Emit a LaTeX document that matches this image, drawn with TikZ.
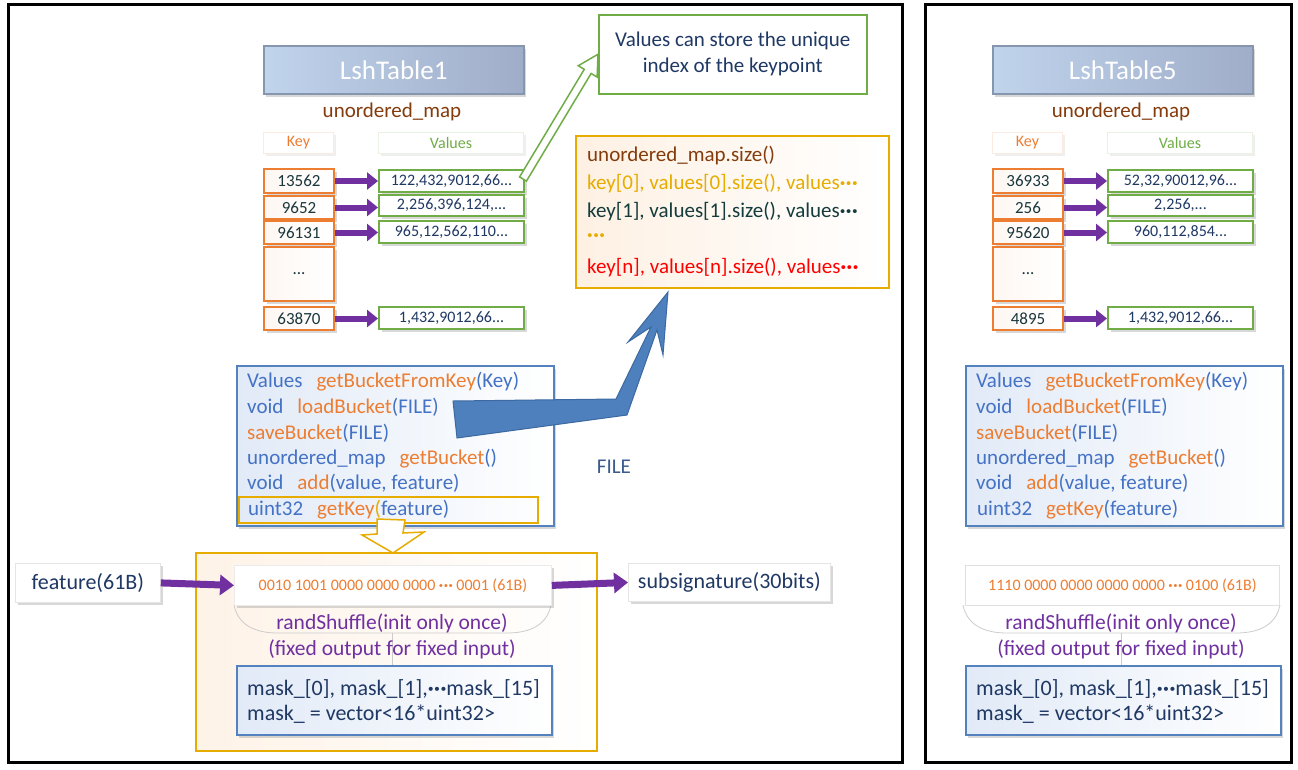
\documentclass[tikz,border=0pt]{standalone}
\usepackage{fontspec}
\setmainfont{Carlito}
\usetikzlibrary{arrows.meta,calc,shadows}

\definecolor{keyor}{RGB}{237,125,49}
\definecolor{valgr}{RGB}{112,173,71}
\definecolor{purp}{RGB}{112,48,160}
\definecolor{dblue}{RGB}{31,56,100}
\definecolor{keytxt}{RGB}{25,55,60}
\definecolor{brownc}{RGB}{132,60,12}
\definecolor{goldc}{RGB}{230,172,0}
\definecolor{fnblue}{RGB}{68,114,196}
\definecolor{fnor}{RGB}{237,125,49}
\definecolor{boxblue}{RGB}{84,130,190}
\definecolor{hdrA}{RGB}{192,212,236}
\definecolor{hdrB}{RGB}{160,173,200}
\definecolor{hdrline}{RGB}{135,150,175}
\definecolor{arrblue}{RGB}{77,128,189}
\definecolor{arrline}{RGB}{60,105,160}
\definecolor{tealtxt}{RGB}{20,60,60}
\definecolor{peach}{RGB}{253,234,215}
\definecolor{paleblue}{RGB}{225,234,247}
\definecolor{filetxt}{RGB}{60,90,140}
\definecolor{redc}{RGB}{255,0,0}

\newcommand\cb{\color{fnblue}}
\newcommand\co{\color{fnor}}
\newcommand\gkp{\cb}
\newcommand\dts{\textbf{·\kern0.5pt·\kern0.5pt·}}

\tikzset{
 shad/.style={drop shadow={opacity=0.3,shadow xshift=2.5pt,shadow yshift=-3pt}},
 lshad/.style={drop shadow={opacity=0.12,shadow xshift=2pt,shadow yshift=-2pt}},
 hdr/.style={anchor=north west, minimum width=260pt, minimum height=48pt, inner sep=0pt,
   draw=hdrline, line width=1.5pt, left color=hdrA, right color=hdrB, text=white,
   font=\fontsize{27}{32}\selectfont, shad},
 umap/.style={text=brownc, font=\fontsize{21}{25}\selectfont},
 colhdr/.style={anchor=north west, minimum height=21pt, inner sep=0pt, fill=white,
   line width=1pt, font=\fontsize{16}{19}\selectfont, lshad},
 keyhdr/.style={colhdr, minimum width=70pt, draw=keyor!15, text=keyor},
 valhdr/.style={colhdr, minimum width=145pt, draw=valgr!15, text=valgr},
 keybox/.style={anchor=north west, minimum width=70pt, minimum height=23pt, inner sep=0pt,
   draw=keyor, line width=2pt, left color=keyor!6, right color=white, text=keytxt,
   font=\fontsize{17}{20}\selectfont, shad},
 valbox/.style={anchor=north west, minimum width=145pt, minimum height=22pt, inner sep=0pt,
   draw=valgr, line width=2pt, fill=white, text=dblue, font=\fontsize{16}{19}\selectfont, shad},
 parr/.style={draw=purp, line width=6pt, -{Triangle[length=11pt,width=17pt]}},
 parrb/.style={draw=purp, line width=7pt, -{Triangle[length=14pt,width=20pt]}},
 fnbox/.style={anchor=north west, draw=boxblue, line width=1.5pt, left color=paleblue,
   right color=white, inner sep=0pt, shad},
 fl/.style={anchor=base west, inner sep=0pt, font=\fontsize{21}{25}\selectfont, text=fnblue},
 ml/.style={anchor=base west, inner sep=0pt, font=\fontsize{22}{26}\selectfont, text=dblue},
 ptxt/.style={anchor=base, inner sep=0pt, font=\fontsize{21.5}{25}\selectfont, text=purp},
 bowl/.style={draw=black!20, line width=0.8pt},
 plain/.style={anchor=north west, inner sep=0pt, fill=white, draw=black!10, line width=0.8pt,
   font=\fontsize{22}{26}\selectfont, text=dblue, shad},
 bits/.style={anchor=north west, inner sep=0pt, fill=white, line width=0.8pt,
   font=\fontsize{16}{19}\selectfont, text=fnor},
 frame/.style={draw=black, line width=3pt},
}

\newcommand\lshpanel[9]{%
 \node[hdr] (title) at (263,45) {#1};
 \node[umap] (umap) at (392,112) {unordered\_map};
 \node[keyhdr] (kh) at (263,132) {Key};
 \node[valhdr] (vh) at (378,132) {Values};
 \node[keybox, minimum height=24pt] (k1) at (263,168) {#2};
 \node[keybox] (k2) at (263,195) {#3};
 \node[keybox] (k3) at (263,220) {#4};
 \node[keybox, minimum height=54pt] (k4) at (263,246) {...};
 \node[keybox] (k5) at (263,306) {#5};
 \node[valbox] (v1) at (378,169) {#6};
 \node[valbox, minimum height=21pt] (v2) at (378,194) {#7};
 \node[valbox] (v3) at (378,220) {#8};
 \node[valbox] (v5) at (378,306) {#9};
 \draw[parr] (k1.east) -- (k1.east -| v1.west);
 \draw[parr] (k2.east) -- (k2.east -| v2.west);
 \draw[parr] (k3.east) -- (k3.east -| v3.west);
 \draw[parr] (k5.east) -- (k5.east -| v5.west);
 \node[fnbox, minimum width=317pt, minimum height=160pt] (fb) at (236,365) {};
 \node[fl] (f1) at (247,387) {Values\hspace{14pt}\co getBucketFromKey\cb(Key)};
 \node[fl] (f2) at (247,413) {void\hspace{14pt}\co loadBucket\cb(FILE)};
 \node[fl] (f3) at (247,439) {\co saveBucket\cb(FILE)};
 \node[fl] (f4) at (247,464) {unordered\_map\hspace{14pt}\co getBucket\cb()};
 \node[fl] (f5) at (247,489) {void\hspace{14pt}\co add\cb(value, feature)};
 \node[fl] (f6) at (248,515) {uint32\hspace{14pt}\co getKey\gkp(\cb feature)};
 \draw[bowl] (234,605) .. controls (238,625) and (255,633) .. (278,633) -- (507,633)
   .. controls (530,633) and (547,625) .. (551,605);
 \coordinate (bb) at (392,633);
 \node[fnbox, minimum width=315pt, minimum height=69pt] (mb) at (236,665) {};
 \draw[draw=black!20, line width=0.8pt] (bb) -- (bb |- mb.north);
 \node[ptxt] (rs) at (392,629) {randShuffle(init only once)};
 \node[ptxt] (fo) at (392,655) {(fixed output for fixed input)};
 \node[ml] (m1) at (247,695) {mask\_[0], mask\_[1],\dts mask\_[15]};
 \node[ml] (m2) at (247,720) {mask\_ = vector<16*uint32>};
}

\begin{document}
\begin{tikzpicture}[x=1pt,y=-1pt]
\useasboundingbox (0,0) rectangle (1298,769);
\fill[white] (0,0) rectangle (1298,769);
\draw[frame] (8,4) rectangle (902,762);
\draw[frame] (925,4) rectangle (1291,762);

% ---------- left panel ----------
\node[anchor=north west, minimum width=401pt, minimum height=198pt, inner sep=0pt,
  draw=goldc, line width=1.5pt, left color=peach!60, right color=white] (gb) at (195,552) {};
\renewcommand\gkp{\color{goldc}}
\lshpanel{LshTable1}{13562}{9652}{96131}{63870}{122,432,9012,66...}{2,256,396,124,...}{965,12,562,110...}{1,432,9012,66...}
\node[anchor=north west, minimum width=299pt, minimum height=26pt, inner sep=0pt,
  draw=goldc, line width=1.5pt] (gk) at (238,496) {};

% callout
\node[anchor=north west, minimum width=268pt, minimum height=79pt, inner sep=0pt,
  draw=valgr, line width=1.5pt, fill=white] (cb) at (598,14) {};
\node[align=center, text=dblue, font=\fontsize{21}{26}\selectfont] (cbt) at (cb.center)
  {Values can store the unique\\index of the keypoint};
\coordinate (gA) at ($(v1.east)+(-2,-2)$);
\coordinate (gB) at (cb.west);
\coordinate (gH) at ($(gB)!20pt!(gA)$);
\draw[valgr, line width=1.5pt, fill=white]
  ($(gA)!4pt!90:(gB)$) -- ($(gH)!4pt!90:(gB)$) -- ($(gH)!11pt!90:(gB)$) -- (gB)
  -- ($(gH)!11pt!-90:(gB)$) -- ($(gH)!4pt!-90:(gB)$) -- ($(gA)!4pt!-90:(gB)$) -- cycle;

% orange box
\node[anchor=north west, minimum width=313pt, minimum height=152pt, inner sep=0pt,
  draw=goldc, line width=1.5pt, left color=peach!70, right color=white] (ob) at (575,135) {};
\node[fl, text=brownc] (o1) at (587,161) {unordered\_map.size()};
\node[fl, text=goldc] (o2) at (587,189) {key[0], values[0].size(), values\dts};
\node[fl, text=tealtxt] (o3) at (587,217) {key[1], values[1].size(), values\dts};
\node[fl, text=goldc] (o4) at (587,241) {\dts};
\node[fl, text=redc] (o5) at (587,273) {key[n], values[n].size(), values\dts};

% big blue arrow
\draw[fill=arrblue, draw=arrline, line width=1pt]
  (453,401) -- (616,399) -- (651,327) -- (628,342) -- (668,292) -- (663,355)
  -- (657,330) -- (627,415) -- (457,438) -- cycle;
\node[anchor=base, text=filetxt, font=\fontsize{21}{25}\selectfont] (file) at (614,473) {FILE};

% yellow hollow arrow
\draw[goldc, line width=1.5pt, fill=white]
  (377,519) -- (405,520) -- (403,533) -- (424,532) -- (393,553) -- (362,535) -- (377,534) -- cycle;

% bottom row
\node[plain, minimum width=145pt, minimum height=39pt] (feat) at (15,563) {feature(61B)};
\node[bits, draw=black!8, minimum width=317pt, minimum height=40pt, shad] (bit) at (234,565)
  {0010 1001 0000 0000 0000 \dts\ 0001 (61B)};
\node[plain, minimum width=202pt, minimum height=38pt] (sub) at (628,563) {subsignature(30bits)};
\draw[parrb] (feat.east) -- (bit.west);
\draw[parrb] (bit.east) -- (sub.west);

% ---------- right panel ----------
\renewcommand\gkp{\cb}
\begin{scope}[xshift=729pt, name prefix=R-]
\lshpanel{LshTable5}{36933}{256}{95620}{4895}{52,32,90012,96...}{2,256,...}{960,112,854...}{1,432,9012,66...}
\end{scope}
\node[bits, draw=black!12, minimum width=314pt, minimum height=40pt] (rbit) at (965,565)
  {1110 0000 0000 0000 0000 \dts\ 0100 (61B)};
\end{tikzpicture}
\end{document}
